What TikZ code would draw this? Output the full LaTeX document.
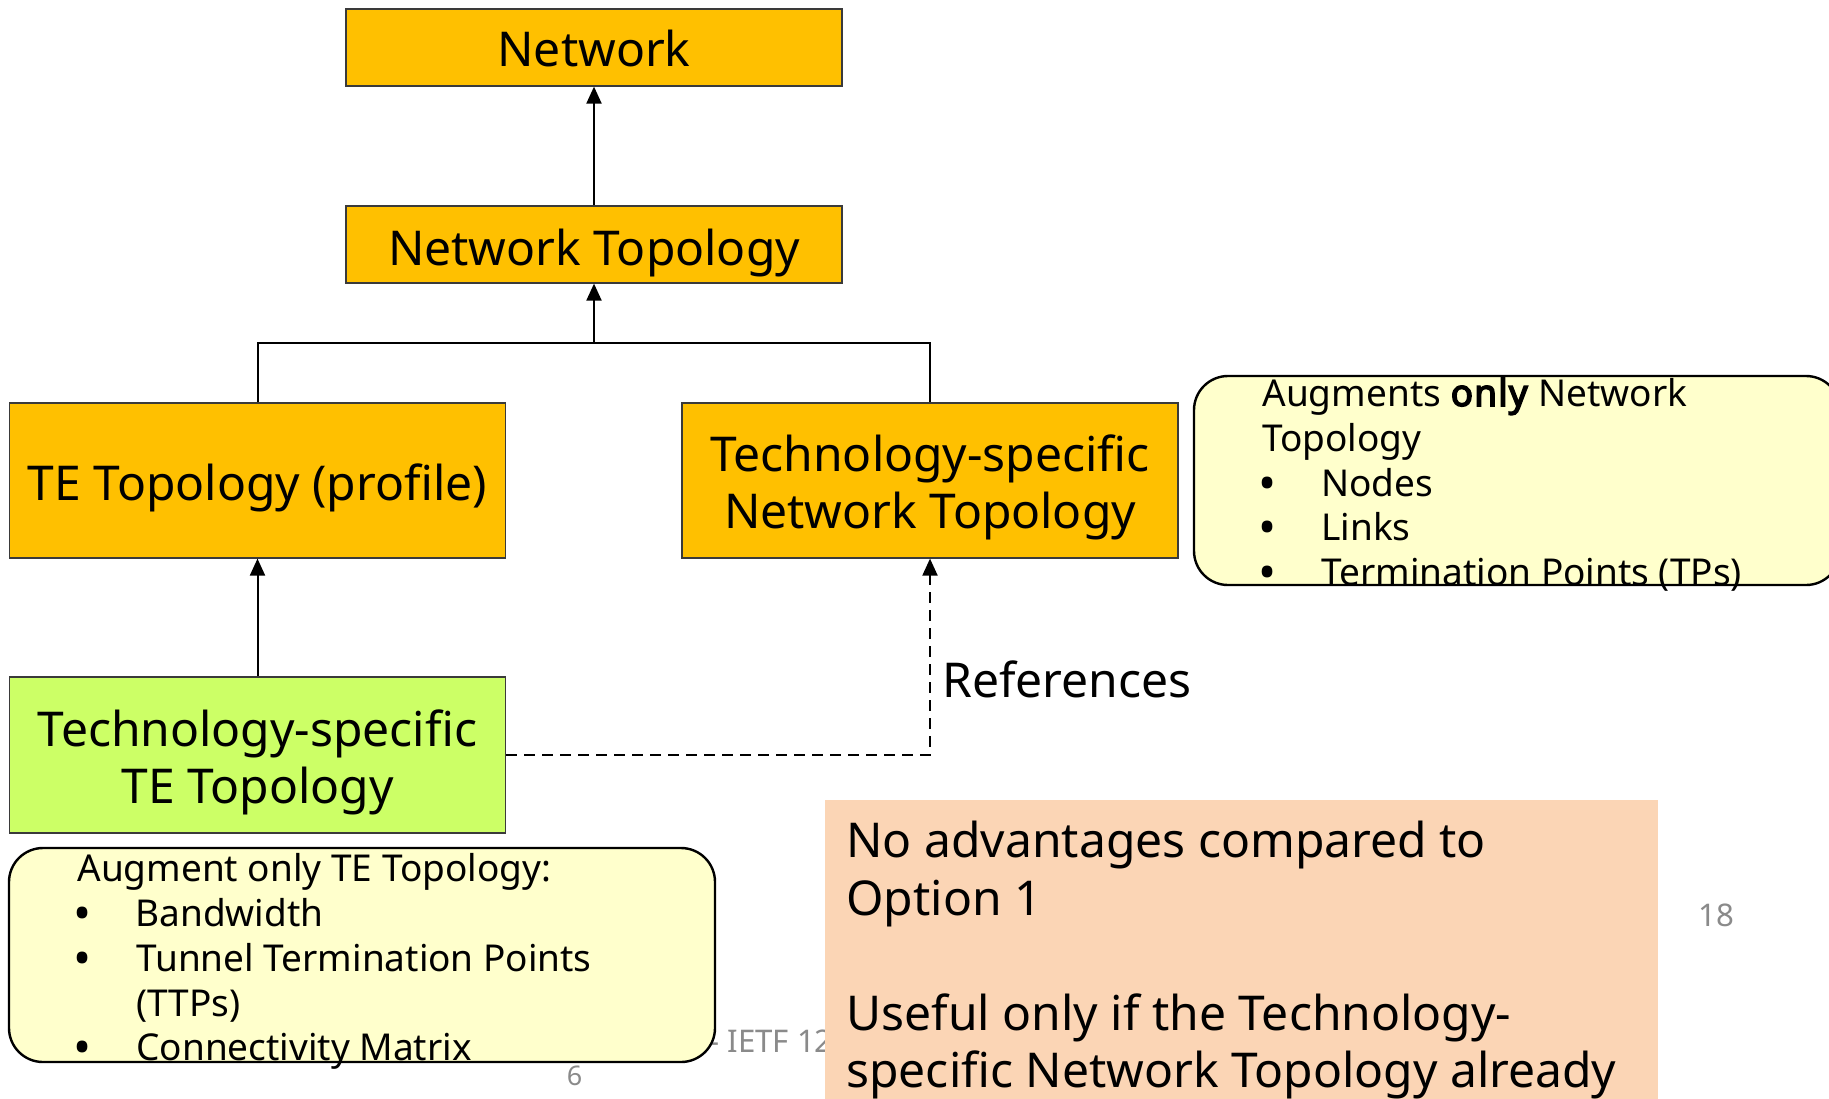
\documentclass[tikz,border=0pt]{standalone}
\usepackage{fontspec}
\setmainfont{Noto Sans}[BoldFont={Noto Sans}, BoldFeatures={FakeBold=4, LetterSpace=3}]
\usetikzlibrary{arrows.meta}
\definecolor{gold}{HTML}{FFC000}
\definecolor{lime}{HTML}{CCFF66}
\definecolor{cream}{HTML}{FFFFCC}
\definecolor{peach}{HTML}{FBD5B5}
\definecolor{footgray}{HTML}{8A8A8A}
\definecolor{edge}{HTML}{3A3A3A}
\begin{document}
\begin{tikzpicture}[x=0.5pt,y=-0.5pt,
 box/.style={draw=edge, line width=0.6pt, inner sep=0pt, minimum width=248pt},
 goldbox/.style={box, fill=gold},
 boxtext/.style={anchor=base, inner sep=0pt, font=\fontsize{24}{28}\selectfont},
 callout/.style={draw=black, line width=1.2pt, fill=cream, rounded corners=17pt, inner sep=0pt},
 link/.style={line width=1pt, -{Triangle[length=8.5pt,width=7.5pt]}},
 ref/.style={link, dash pattern=on 5.5pt off 3.5pt},
 calltext/.style={anchor=base west, inner sep=0pt, font=\fontsize{18.5}{22}\selectfont},
 bul/.style={anchor=base west, inner sep=0pt, font=\fontsize{24}{22}\selectfont},
 notetext/.style={anchor=base west, inner sep=0pt, font=\fontsize{24}{29}\selectfont},
 foot/.style={inner sep=0pt, text=footgray, font=\fontsize{15.6}{18}\selectfont}]
\useasboundingbox (0,0) rectangle (1829,1098);
\fill[white] (0,0) rectangle (1829,1098);

% footer texts (behind)
\node[foot, anchor=base west] (ietf) at (709,1052.5) {- IETF 126};
\node[foot, anchor=base, font=\fontsize{13.5}{16}\selectfont] (pg) at (574.5,1085) {6};
\node[foot, anchor=base] (sl) at (1716.5,926.7) {18};

% boxes
\node[goldbox, minimum height=38.5pt] (net) at (594,47.5) {};
\node[boxtext] (netl) at (594,66.5) {Network};
\node[goldbox, minimum height=38.5pt] (nt) at (594,244.5) {};
\node[boxtext] (ntl) at (594,265) {Network Topology};
\node[goldbox, minimum height=77.5pt] (te) at (257.5,480.5) {};
\node[boxtext] (tel) at (257.5,500) {TE Topology (profile)};
\node[goldbox, minimum height=77.5pt] (tsnt) at (930,480.5) {};
\node[boxtext] (tsnta) at (930,471.7) {Technology-specific};
\node[boxtext] (tsntb) at (930,528) {Network Topology};
\node[box, fill=lime, minimum height=78pt] (tste) at (257.5,755) {};
\node[boxtext] (tstea) at (257.5,746.7) {Technology-specific};
\node[boxtext] (tsteb) at (257.5,803.3) {TE Topology};

% connectors
\coordinate (j) at (594,343);
\draw[line width=1pt] (te.north) -- (te.north |- j) -- (tsnt.north |- j) -- (tsnt.north);
\draw[link] (j) -- (nt.south);
\draw[link] (nt.north) -- (net.south);
\draw[link] (tste.north) -- (te.south);
\draw[ref] (tste.east) -| (tsnt.south);
\node[anchor=base west, inner sep=0pt, font=\fontsize{24}{28}\selectfont] (refs) at (942,697) {References};

% right callout
\node[callout, minimum width=323pt, minimum height=104.5pt] (c2) at (1517,480.5) {};
\node[calltext] (c2a) at (1262,406) {Augments \textbf{only} Network};
\node[calltext] (c2b) at (1262,451) {Topology};
\node[bul] (c2c) at (1258,500) {•};
\node[calltext] (c2d) at (1321,496) {Nodes};
\node[bul] (c2e) at (1258,544.5) {•};
\node[calltext] (c2f) at (1321,540.5) {Links};
\node[bul] (c2g) at (1258,589) {•};
\node[calltext] (c2h) at (1321,585) {Termination Points (TPs)};

% bottom-left callout
\node[callout, minimum width=353pt, minimum height=107pt] (c1) at (362,955) {};
\node[calltext] (c1a) at (77,881) {Augment only TE Topology:};
\node[bul] (c1b) at (73,930) {•};
\node[calltext] (c1c) at (135,926) {Bandwidth};
\node[bul] (c1d) at (73,975) {•};
\node[calltext] (c1e) at (136,971) {Tunnel Termination Points};
\node[calltext] (c1f) at (136,1016) {(TTPs)};
\node[bul] (c1g) at (73,1064) {•};
\node[calltext] (c1h) at (136,1060) {Connectivity Matrix};

% note
\node[fill=peach, inner sep=0pt, minimum width=416.5pt, minimum height=155pt] (note) at (1241.5,955) {};
\node[notetext] (n1) at (846,857) {No advantages compared to};
\node[notetext] (n2) at (846,915) {Option 1};
\node[notetext] (n3) at (846,1030) {Useful only if the Technology-};
\node[notetext] (n4) at (846,1087) {specific Network Topology already};
\end{tikzpicture}
\end{document}
